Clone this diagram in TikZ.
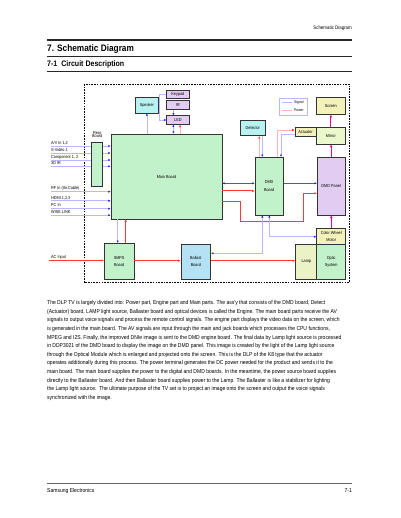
\documentclass[tikz,border=0pt]{standalone}
\usepackage{fontspec}
\setmainfont{Liberation Sans}
\newfontfamily\narrowfont[FakeStretch=0.88]{Liberation Sans}
\usetikzlibrary{arrows.meta}
\definecolor{boardgreen}{HTML}{C2F2CA}
\definecolor{partcyan}{HTML}{B8F2F0}
\definecolor{partlilac}{HTML}{E2CCF2}
\definecolor{partyellow}{HTML}{F2F2BA}
\definecolor{mirrorgreen}{HTML}{EAF8CC}
\definecolor{ballastblue}{HTML}{B4E2F4}
\definecolor{lampyellow}{HTML}{EAF2C6}
\definecolor{signalpale}{HTML}{B8B8FF}
\definecolor{signalmid}{HTML}{4A4AFF}
\definecolor{signaldark}{HTML}{2020F0}
\definecolor{powerpale}{HTML}{FFB4B4}
\definecolor{powerdark}{HTML}{FF3838}
\newcommand\tagsize{\narrowfont\fontsize{4.3}{6.5}\selectfont}
\tikzset{
    bluetip/.tip={Latex[length=2.2pt,width=2.2pt,color=signaldark]},
    redtip/.tip={Latex[length=2.4pt,width=2.4pt,color=powerdark]},
    pinktip/.tip={Latex[length=2.8pt,width=2.8pt,color=magenta]}
}
\begin{document}
\begin{tikzpicture}[
    x=1pt, y=-1pt,
    every node/.style={font=\tagsize},
    unit/.style args={#1x#2}{draw=black!80, line width=.8pt, inner sep=0pt, align=center,
        minimum width=#1pt, minimum height=#2pt},
    tag/.style={anchor=base west, inner sep=0pt},
    sig/.style={draw=signalpale, line width=.6pt, -bluetip},
    sigboth/.style={sig, bluetip-bluetip},
    sigbold/.style={draw=signalmid, line width=1pt, -bluetip},
    pwr/.style={draw=powerpale, line width=.6pt, -redtip},
    pwrbold/.style={draw=powerdark, line width=1pt, -redtip},
    beam/.style={draw=magenta, line width=1.2pt, -pinktip},
    rule/.style={line width=#1, black!85}
]
    \useasboundingbox (0,0) rectangle (400,518);

    \node[anchor=east, inner sep=0pt, font=\narrowfont\fontsize{5}{5}\selectfont] (pagehead) at (352,28) {Schematic Diagram};
    \draw[rule=1.6pt] (47,40) -- (352,40);
    \node[anchor=west, inner sep=0pt, font=\narrowfont\bfseries\fontsize{9.4}{10}\selectfont] (chapter) at (47,48.6) {7. Schematic Diagram};
    \draw[rule=.9pt] (47,56.7) -- (352,56.7);
    \node[anchor=west, inner sep=0pt, font=\narrowfont\bfseries\fontsize{8}{8}\selectfont] (section) at (47,64.3) {7-1\ \ Circuit Description};
    \draw[rule=.9pt] (47,71.3) -- (352,71.3);

    \draw[line width=.9pt, dash pattern=on 1.6pt off 1.1pt] (84,84) rectangle (349,282.5);

    \node[unit=22.3x16, fill=partcyan] (speaker) at (146.85,105) {Speaker};
    \node[unit=22.3x8.3, fill=partlilac] (keypad) at (177.85,94.15) {Keypad};
    \node[unit=22.3x8.6, fill=partlilac] (ir) at (177.85,105) {IR};
    \node[unit=22.3x8.6, fill=partlilac] (led) at (177.85,120) {LED};
    \node[unit=111x85, fill=boardgreen] (main) at (166.5,176.5) {Main Board};
    \node[unit=11x43.7, fill=boardgreen] (rear) at (97.2,164.15) {};
    \node[inner sep=0pt, align=center, font=\narrowfont\fontsize{4.3}{3.6}\selectfont] (rearlbl) at (97.2,134.6) {Rear\\Board};
    \node[unit=24.3x15.7, fill=partcyan] (detector) at (252.85,127.85) {Detector};
    \node[unit=21x9.4, fill=partyellow] (actuator) at (305.5,132) {Actuator};
    \node[unit=28.3x17, fill=partyellow] (screen) at (330.85,105.8) {Screen};
    \node[unit=28.3x16.3, fill=mirrorgreen] (mirror) at (330.85,135.85) {Mirror};
    \node[unit=28.3x57.7, fill=boardgreen] (dmdb) at (269.15,186.15) {DMD\\[1pt]Board};
    \node[unit=27.7x57.7, fill=partlilac] (dmdp) at (331.15,186.15) {DMD Panel};
    \node[unit=29x16, fill=partyellow] (cwm) at (331.2,236.3) {Color Wheel\\Motor};
    \node[unit=21.3x35.2, fill=lampyellow] (lamp) at (306.35,261.9) {Lamp};
    \node[unit=29x35.2, fill=boardgreen] (optic) at (331.2,261.9) {Optic\\[1pt]System};
    \node[unit=29.7x35.3, fill=ballastblue] (ballast) at (195.85,261.65) {Ballast\\Board};
    \node[unit=29.7x36, fill=boardgreen] (smps) at (119.15,261.3) {SMPS\\Board};

    \node[draw=signalpale, line width=.5pt, minimum width=27.8pt, minimum height=16.7pt, inner sep=0pt] (legend) at (293.4,106.6) {};
    \draw[signalpale, line width=.6pt] (281.7,102.3) -- (292.3,102.3);
    \draw[powerpale, line width=.6pt] (281.7,110) -- (292.3,110);
    \node[anchor=west, inner sep=0pt, font=\narrowfont\fontsize{3.8}{4}\selectfont] (sigkey) at (294,102.3) {Signal};
    \node[anchor=west, inner sep=0pt, font=\narrowfont\fontsize{3.8}{4}\selectfont] (pwrkey) at (294,110) {Power};

    \foreach \yy/\lbl [count=\k] in {146/{A/V In 1,2},153/{S-Video 1},160/{Component 1, 2},166.3/{3D IR}} {
        \coordinate (av\k) at (51,\yy);
        \node[tag] (avlbl\k) at ([yshift=1.7pt]av\k) {\lbl};
        \draw[signalpale, line width=.6pt] (av\k) -- (rear.west |- av\k);
        \draw[sig] (rear.east |- av\k) -- (main.west |- av\k);
    }
    \foreach \yy/\lbl [count=\k] in {191.7/{RF In (Air,Cable)},200.8/{HDMI 1,2,3},208.7/{PC In},215.2/{WISE LINK}} {
        \coordinate (ext\k) at (51,\yy);
        \node[tag] (extlbl\k) at ([yshift=1.7pt]ext\k) {\lbl};
        \draw[sig] (ext\k) -- (main.west |- ext\k);
    }
    \coordinate (acin) at (49,260.5);
    \node[tag] (aclbl) at ([yshift=1.9pt,xshift=2pt]acin) {AC Input};
    \draw[pwrbold] (acin) -- (smps.west |- acin);

    \draw[sig] (main.north -| speaker.south) -- (speaker.south);
    \draw[sig] (keypad.west) -- ++(-6.7,0) |- (led.west);
    \draw[sig] ([xshift=-4.5pt]ir.south) -- ([xshift=-4.5pt]led.north);
    \draw[sigboth] ([xshift=-4.5pt]led.south) -- ([xshift=-4.5pt]led.south |- main.north);
    \draw[pwr] ([xshift=2.2pt]led.south |- main.north) -- ([xshift=2.2pt]led.south);

    \draw[sigbold, bluetip-bluetip] (main.east |- 0,183.3) -- (dmdb.west |- 0,183.3);
    \draw[pwrbold] (main.east |- 0,191) -- (dmdb.west |- 0,191);
    \draw[pwrbold] (main.east |- 0,201.3) -| (240.3,221.7) -| (303.3,193.3) -- (dmdp.west |- 0,193.3);
    \draw[sigbold] (dmdb.east |- 0,183.3) -- (dmdp.west |- 0,183.3);

    \draw[beam] (dmdp.north) -- (dmdp.north |- mirror.south);
    \draw[beam] (mirror.north) -- (mirror.north |- screen.south);
    \draw[beam] (cwm.north) -- (cwm.north |- dmdp.south);

    \draw[pwr] (dmdb.north -| 259.3,0) -- (detector.south -| 259.3,0);
    \draw[sig] (detector.south -| 262.3,0) -- (dmdb.north -| 262.3,0);
    \draw[pwr] (dmdb.north -| 277.7,0) |- (actuator.west |- 0,130);
    \draw[sig] (actuator.west |- 0,134) -| (dmdb.north -| 281,0);

    \draw[sigboth] (dmdb.south -| 262.3,0) |- (ballast.east |- 0,253.3);
    \draw[sigboth] (dmdb.south -| 269.3,0) |- (cwm.west |- 0,236.7);

    \draw[sig] (main.south -| 117.7,0) -- (smps.north -| 117.7,0);
    \draw[pwrbold] (smps.north -| 125.7,0) -- (main.south -| 125.7,0);
    \draw[pwrbold] (smps.east |- 0,260.7) -- (ballast.west |- 0,260.7);
    \draw[pwrbold] (ballast.east |- 0,260.7) -- (lamp.west |- 0,260.7);

    \node[anchor=north west, align=left, inner sep=0pt, font=\narrowfont\fontsize{5.7}{8.6}\selectfont] (desc) at (47,300.4) {%
        The DLP TV is largely divided into: Power part, Engine part and Main parts. The ass'y that consists of the DMD board, Detect\\
        (Actuator) board, LAMP light source, Ballaster board and optical devices is called the Engine. The main board parts receive the AV\\
        signals to output voice signals and process the remote control signals. The engine part displays the video data on the screen, which\\
        is generated in the main board. The AV signals are input through the main and jack boards which processes the CPU functions,\\
        MPEG and I2S. Finally, the improved DNIe image is sent to the DMD engine board. The final data by Lamp light source is processed\\
        in DDP3021 of the DMD board to display the image on the DMD panel. This image is created by the light of the Lamp light source\\
        through the Optical Module which is enlarged and projected onto the screen. This is the DLP of the K8 type that the actuator\\
        operates additionally during this process. The power terminal generates the DC power needed for the product and sends it to the\\
        main board. The main board supplies the power to the digital and DMD boards. In the meantime, the power source board supplies\\
        directly to the Ballaster board. And then Ballaster board supplies power to the Lamp. The Ballaster is like a stabilizer for lighting\\
        the Lamp light source.\ \ The ultimate purpose of the TV set is to project an image onto the screen and output the voice signals\\
        synchronized with the image.};

    \draw[line width=.8pt, black!60] (47,483.3) -- (352,483.3);
    \node[anchor=west, inner sep=0pt, font=\narrowfont\fontsize{5.7}{6}\selectfont] (footleft) at (47,490.7) {Samsung Electronics};
    \node[anchor=east, inner sep=0pt, font=\narrowfont\fontsize{5.7}{6}\selectfont] (footright) at (352,490.7) {7-1};
\end{tikzpicture}
\end{document}
